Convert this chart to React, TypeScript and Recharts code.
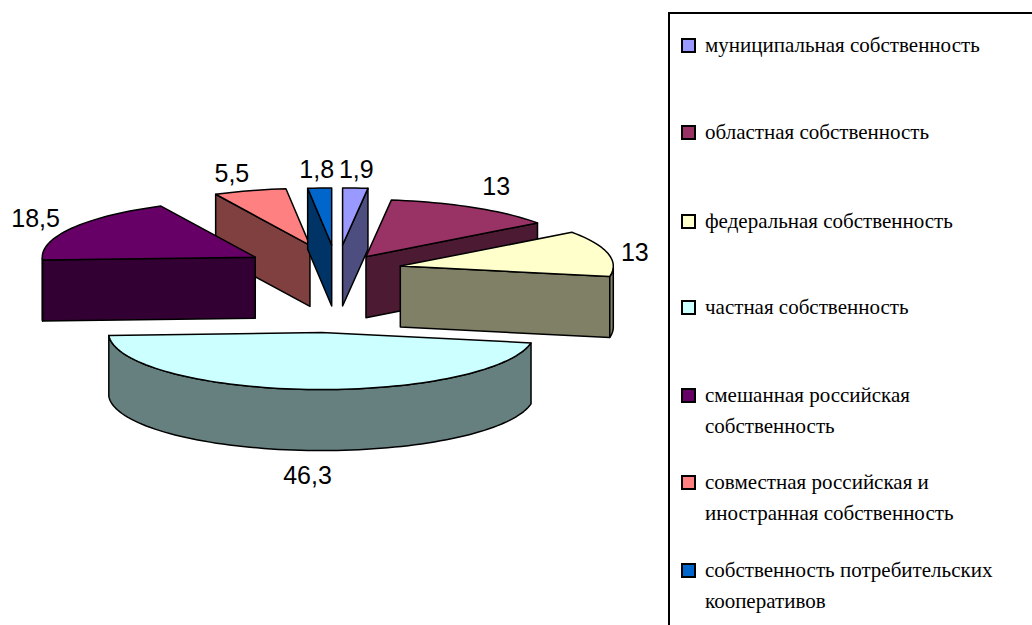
import React from "react";
import { PieChart, Pie, Legend } from "recharts";

// Shares of ownership types, in legend order (clockwise from twelve o'clock).
const CATEGORIES = [
  ["муниципальная собственность"],
  ["областная собственность"],
  ["федеральная собственность"],
  ["частная собственность"],
  ["смешанная российская", "собственность"],
  ["совместная российская и", "иностранная собственность"],
  ["собственность потребительских", "кооперативов"],
];
const VALUES = [1.9, 13, 13, 46.3, 18.5, 5.5, 1.8];
const COLORS = ["#9999FF", "#993366", "#FFFFCC", "#CCFFFF", "#660066", "#FF8080", "#0066CC"];

// How far each wedge is pulled out, as a fraction of the radius.
const EXPLOSION = [0.44, 0.27, 0.305, 1.1, 0.445, 0.45, 0.44];
// Nudge of every value label away from the wedge's rim.
const LABEL_NUDGE: [number, number][] = [
  [1, -19], [23, -21], [27, -1], [0, 25], [-36, -10], [-18, -18], [-3, -19],
];
// Vertical centre of each legend row's first line.
const LEGEND_ROWS = [45, 132, 221, 307, 395, 482, 570];

const CX = 337;
const CY = 270;
const RADIUS = 213;
const SQUASH = 57 / 213;
const DEPTH = 61;
const RAD = Math.PI / 180;

// The slices are laid out from the joint-ownership wedge so that later wedges
// paint over the ones behind them.
const FIRST = 5;
const ORDER = VALUES.map((_, i) => (i + FIRST) % VALUES.length);
const TOTAL = VALUES.reduce((a, b) => a + b, 0);
const TAIL = VALUES.slice(FIRST).reduce((a, b) => a + b, 0);
const START_ANGLE = 90 + (TAIL / TOTAL) * 360;
const pieData = ORDER.map((i) => ({
  name: CATEGORIES[i].join(" "),
  value: VALUES[i],
  fill: COLORS[i],
  source: i,
}));

type Pt = [number, number];

const onTilted = (ax: number, ay: number, compass: number, r: number): Pt => [
  ax + r * Math.sin(compass * RAD),
  ay - r * SQUASH * Math.cos(compass * RAD),
];

// Apex of a wedge after pulling it out along its middle angle.
const apexOf = (cx: number, cy: number, r: number, mid: number, k: number): Pt =>
  onTilted(cx, cy, 90 - mid, r * k);

const darken = (hex: string) => {
  const n = parseInt(hex.slice(1), 16);
  const half = (v: number) => Math.round(v / 2).toString(16).padStart(2, "0");
  return `#${half((n >> 16) & 255)}${half((n >> 8) & 255)}${half(n & 255)}`;
};

const toPath = (pts: Pt[]) =>
  "M" + pts.map((p) => `${p[0].toFixed(2)},${p[1].toFixed(2)}`).join("L") + "Z";

const drop = (p: Pt): Pt => [p[0], p[1] + DEPTH];

function Wedge(props: any) {
  const { cx, cy, outerRadius, startAngle, endAngle, payload, fill } = props;
  const source = payload?.source ?? props.source;
  const color = payload?.fill ?? fill;
  const mid = (startAngle + endAngle) / 2;
  const [ax, ay] = apexOf(cx, cy, outerRadius, mid, EXPLOSION[source]);
  const from = 90 - startAngle;
  const to = 90 - endAngle;

  const rim: { a: number; p: Pt }[] = [];
  const steps = Math.max(2, Math.ceil((to - from) / 2));
  for (let s = 0; s <= steps; s++) {
    const a = from + ((to - from) * s) / steps;
    rim.push({ a, p: onTilted(ax, ay, a, outerRadius) });
  }
  const apex: Pt = [ax, ay];
  const first = rim[0].p;
  const last = rim[rim.length - 1].p;

  // Only faces turned towards the viewer are drawn.
  const faces: Pt[][] = [];
  if (first[0] < ax - 0.01) faces.push([apex, first, drop(first), drop(apex)]);
  if (last[0] > ax + 0.01) faces.push([last, apex, drop(apex), drop(last)]);
  const front = rim.filter((e) => {
    const c = ((e.a % 360) + 360) % 360;
    return c >= 90 && c <= 270;
  });
  if (front.length > 1) {
    const top = front.map((e) => e.p);
    faces.push([...top, ...top.slice().reverse().map(drop)]);
  }

  const side = darken(color);
  return (
    <g>
      {faces.map((f, i) => (
        <path key={i} d={toPath(f)} fill={side} stroke="#000" strokeWidth={1.5} strokeLinejoin="round" />
      ))}
      <path
        d={toPath([apex, ...rim.map((e) => e.p)])}
        fill={color}
        stroke="#000"
        strokeWidth={1.5}
        strokeLinejoin="round"
      />
    </g>
  );
}

function ValueLabel(props: any) {
  const { cx, cy, outerRadius, midAngle, payload, value } = props;
  const source = payload?.source ?? props.source;
  const [ax, ay] = apexOf(cx, cy, outerRadius, midAngle, EXPLOSION[source]);
  const c = 90 - midAngle;
  const [rx, ry] = onTilted(ax, ay, c, outerRadius);
  const facing = Math.cos(c * RAD) < 0 ? DEPTH : 0;
  const [nx, ny] = LABEL_NUDGE[source];
  return (
    <text
      x={rx + nx}
      y={ry + facing + ny}
      textAnchor="middle"
      dominantBaseline="central"
      fontFamily="'Liberation Sans', Arial, sans-serif"
      fontSize={25}
      fill="#000"
    >
      {String(value).replace(".", ",")}
    </text>
  );
}

function LegendBox() {
  return (
    <div
      style={{
        position: "relative",
        width: 400,
        height: 660,
        boxSizing: "border-box",
        border: "2px solid #000",
        background: "#fff",
        fontFamily: "'Liberation Serif', 'Times New Roman', serif",
        fontSize: 21,
        color: "#000",
      }}
    >
      {CATEGORIES.map((lines, i) => (
        <div key={i}>
          <div
            style={{
              position: "absolute",
              left: 11,
              top: LEGEND_ROWS[i] - 21,
              width: 15,
              height: 15,
              boxSizing: "border-box",
              border: "2px solid #000",
              background: COLORS[i],
            }}
          />
          {lines.map((line, j) => (
            <div
              key={j}
              style={{
                position: "absolute",
                left: 35,
                top: LEGEND_ROWS[i] - 28 + j * 31,
                lineHeight: "28px",
                whiteSpace: "nowrap",
              }}
            >
              {line}
            </div>
          ))}
        </div>
      ))}
    </div>
  );
}

export default function App() {
  return (
    <div
      style={{
        position: "absolute",
        left: 0,
        top: 0,
        width: 1032,
        height: 625,
        overflow: "hidden",
        background: "#fff",
      }}
    >
      <PieChart width={1032} height={625} margin={{ top: 0, right: 0, bottom: 0, left: 0 }}>
        <Pie
          data={pieData}
          dataKey="value"
          nameKey="name"
          cx={CX}
          cy={CY}
          innerRadius={0}
          outerRadius={RADIUS}
          startAngle={START_ANGLE}
          endAngle={START_ANGLE - 360}
          isAnimationActive={false}
          shape={Wedge}
          label={ValueLabel}
          labelLine={false}
        />
        <Legend
          content={LegendBox}
          wrapperStyle={{ left: 668, top: 12, bottom: "auto", right: "auto", width: 400, height: 660 }}
        />
      </PieChart>
    </div>
  );
}
